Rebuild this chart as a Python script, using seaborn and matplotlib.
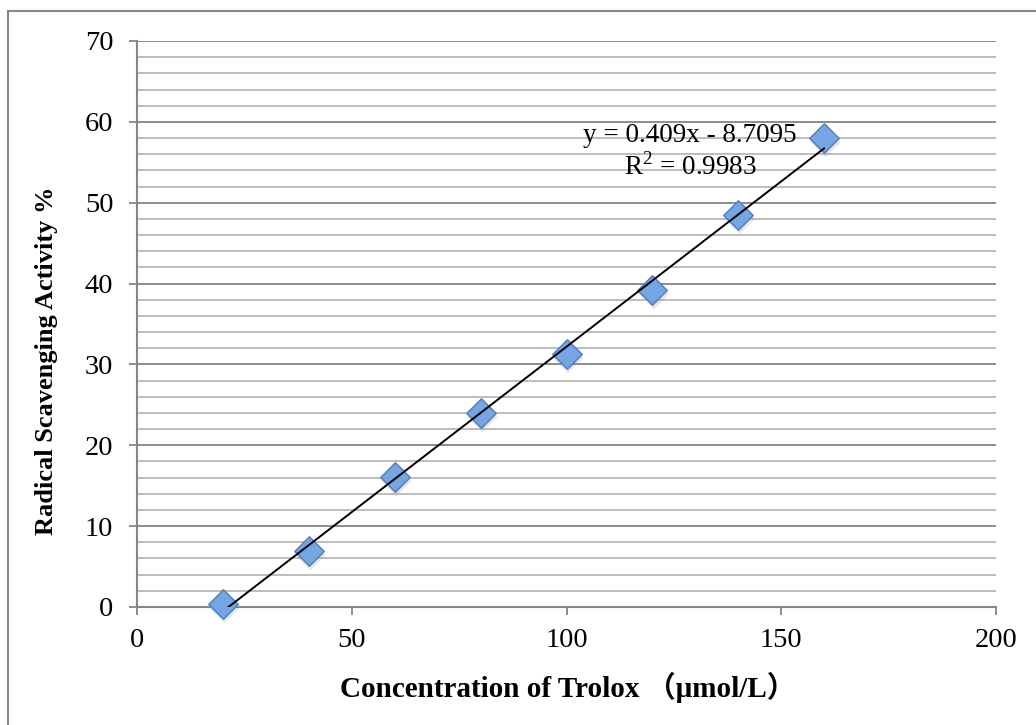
import numpy as np
import pandas as pd
import matplotlib
matplotlib.use("Agg")
import matplotlib.pyplot as plt
import matplotlib.transforms as mtransforms
from matplotlib.lines import Line2D
import seaborn as sns

# ---- data ----
concentration = [20, 40, 60, 80, 100, 120, 140, 160]
activity = [0.4, 6.9, 16.1, 24.0, 31.3, 39.2, 48.5, 58.0]
slope = 0.409
intercept = -8.7095
r_squared = 0.9983
x_ticks = [0, 50, 100, 150, 200]
y_ticks = [0, 10, 20, 30, 40, 50, 60, 70]

sns.set_style("white")
plt.rcParams["font.family"] = ["Liberation Serif", "Noto Sans CJK SC", "DejaVu Sans"]
plt.rcParams["text.color"] = "black"
plt.rcParams["axes.labelcolor"] = "black"
plt.rcParams["mathtext.fontset"] = "custom"
plt.rcParams["mathtext.rm"] = "Liberation Serif"

df = pd.DataFrame({"x": concentration, "y": activity})

fig = plt.figure(figsize=(10.36, 7.25), dpi=100)
ax = fig.add_axes([137/1036, 1 - 607/725, (996-137)/1036, (607-41)/725])

gray = "#868686"
ax.set_xlim(0, 200)
ax.set_ylim(0, 70)
ax.set_yticks(y_ticks)
ax.set_yticks(np.arange(0, 71, 2), minor=True)
ax.set_xticks(x_ticks)
ax.yaxis.grid(True, which="major", color="#8c8c8c", lw=1.4)
ax.yaxis.grid(True, which="minor", color="#bdbdbd", lw=1.4)
ax.xaxis.grid(False)
ax.set_axisbelow(True)

for s in ["top", "right"]:
    ax.spines[s].set_visible(False)
for s in ["left", "bottom"]:
    ax.spines[s].set_color(gray)
    ax.spines[s].set_linewidth(1.5)

ax.tick_params(axis="both", which="major", direction="out", length=6, width=1.3,
               color=gray, labelsize=20.5, labelcolor="black")
ax.tick_params(axis="y", which="major", pad=11)
ax.tick_params(axis="x", which="major", pad=9)
ax.tick_params(axis="y", which="minor", length=0)
ax.tick_params(left=True, bottom=True)

# marker shadow
shadow_tr = mtransforms.offset_copy(ax.transData, fig=fig, x=1.5, y=-4, units="dots")
ax.scatter(df["x"], df["y"], marker="D", s=240, color="#9a9a9a", alpha=0.25,
           edgecolor="none", transform=shadow_tr, zorder=2, clip_on=False)

sns.scatterplot(data=df, x="x", y="y", marker="D", s=225, color="#76a5e4",
                edgecolor="#4a7ebb", linewidth=1.0, ax=ax, zorder=3, clip_on=False)

# trendline
tx = np.array([concentration[0], concentration[-1]])
ty = slope * tx + intercept
sns.lineplot(x=tx, y=ty, color="black", lw=1.4, ax=ax, zorder=4)

ax.text(128.8, 58.3, f"y = {slope}x - {abs(intercept)}", ha="center", va="center",
        fontsize=19.5, color="black")
ax.text(128.8, 54.5, f"R$^{{2}}$ = {r_squared}", ha="center", va="center",
        fontsize=19.5, color="black")

ax.set_xlabel("Concentration of Trolox （μmol/L）", fontsize=21, fontweight="bold")
ax.set_ylabel("Radical Scavenging Activity %", fontsize=19, fontweight="bold")
ax.xaxis.set_label_coords(0.502, -0.115)
ax.yaxis.set_label_coords(-0.092, 0.435)

# outer chart frame (left and top edges visible)
fig.add_artist(Line2D([8/1036, 8/1036], [0, 1 - 11/725], transform=fig.transFigure,
                      color=gray, lw=1.5))
fig.add_artist(Line2D([8/1036, 1], [1 - 11/725, 1 - 11/725], transform=fig.transFigure,
                      color=gray, lw=1.5))

fig.savefig("out.png", dpi=100)
